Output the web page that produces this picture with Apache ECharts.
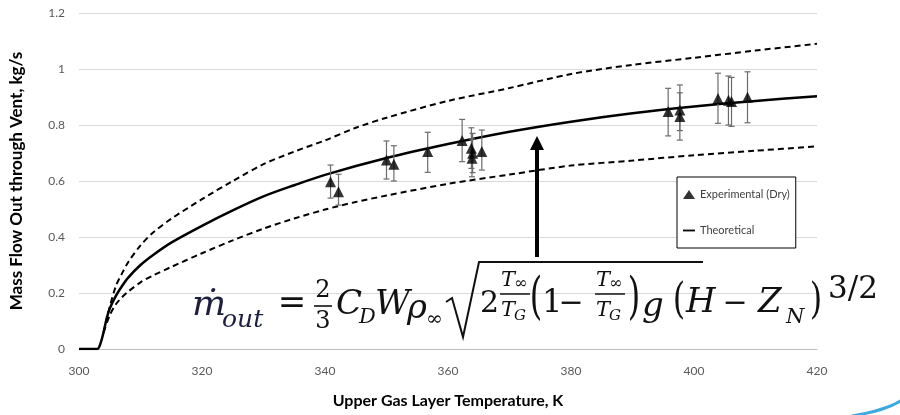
<!DOCTYPE html>
<html>
<head>
<meta charset="utf-8">
<script src="https://cdn.jsdelivr.net/npm/echarts/dist/echarts.min.js"></script>
<style>
html,body{margin:0;padding:0;background:#fff;}
#chart{width:900px;height:415px;}
</style>
</head>
<body>
<div id="chart"></div>
<script>
// ---- data ----
const xTicks = [300, 320, 340, 360, 380, 400, 420];
const yTicks = [0, 0.2, 0.4, 0.6, 0.8, 1, 1.2];

const theoryTemp = [300, 302, 303, 303.5, 304, 304.5, 305, 306, 307, 308, 310, 312, 315, 320, 325, 330, 335, 340, 350, 360, 370, 380, 390, 400, 410, 420];
const theoryFlow = [0, 0, 0, 0.02, 0.06, 0.11, 0.145, 0.19, 0.225, 0.255, 0.30, 0.335, 0.38, 0.44, 0.495, 0.545, 0.585, 0.622, 0.682, 0.732, 0.776, 0.812, 0.842, 0.866, 0.886, 0.903];

const boundTemp = [304, 305, 306, 307, 308, 310, 312, 315, 320, 325, 330, 335, 340, 345, 350, 360, 370, 380, 390, 400, 410, 420];
const upperFlow = [0.06, 0.15, 0.225, 0.27, 0.31, 0.37, 0.415, 0.465, 0.535, 0.60, 0.66, 0.705, 0.745, 0.79, 0.826, 0.886, 0.932, 0.982, 1.015, 1.04, 1.066, 1.09];
const lowerFlow = [0.06, 0.12, 0.16, 0.185, 0.205, 0.238, 0.262, 0.293, 0.342, 0.388, 0.43, 0.466, 0.498, 0.525, 0.548, 0.59, 0.623, 0.655, 0.673, 0.692, 0.708, 0.724];

const expTemp = [340.9, 342.2, 350.0, 351.2, 356.7, 362.3, 363.8, 364.0, 363.9, 365.5, 395.8, 397.7, 397.7, 403.9, 405.6, 406.1, 408.7];
const expFlow = [0.597, 0.562, 0.675, 0.660, 0.705, 0.745, 0.717, 0.699, 0.681, 0.705, 0.848, 0.854, 0.830, 0.895, 0.888, 0.884, 0.899];
const expLow  = [0.539, 0.514, 0.607, 0.600, 0.631, 0.669, 0.645, 0.630, 0.615, 0.639, 0.761, 0.780, 0.746, 0.806, 0.800, 0.795, 0.808];
const expHigh = [0.657, 0.624, 0.743, 0.726, 0.774, 0.820, 0.790, 0.770, 0.750, 0.782, 0.931, 0.943, 0.915, 0.985, 0.975, 0.970, 0.990];

const xTitle = 'Upper Gas Layer Temperature, K';
const yTitle = 'Mass Flow Out through Vent, kg/s';
const expName = 'Experimental (Dry)';
const theoryName = 'Theoretical';

// ---- build ----
const zip = (a, b) => a.map((v, i) => [v, b[i]]);
const errData = expTemp.map((t, i) => [t, expLow[i], expHigh[i]]);

const chart = echarts.init(document.getElementById('chart'), null, {renderer: 'canvas'});

const EQ_FONT = '"DejaVu Serif", "Liberation Serif", serif';
const eqColor = '#111';
function t(text, x, y, size, opts) {
  opts = opts || {};
  return {
    type: 'text', z: 50,
    style: {
      text: text, x: x, y: y,
      font: (opts.italic ? 'italic ' : '') + size + 'px ' + (opts.family || EQ_FONT),
      fill: opts.color || eqColor,
      align: opts.align || 'left',
      verticalAlign: 'middle'
    }
  };
}
function hline(x1, x2, y, w) {
  return {type: 'line', z: 50, shape: {x1: x1, y1: y, x2: x2, y2: y}, style: {stroke: eqColor, lineWidth: w || 1.5}};
}
function paren(ch, x, y, sy) {
  return {type: 'text', z: 50, scaleY: sy, originX: x, originY: y,
    style: {text: ch, x: x, y: y, font: '32px ' + EQ_FONT, fill: eqColor, align: 'center', verticalAlign: 'middle'}};
}

const navy = '#1d1f3d';
const eq = [
  t('\u1E41', 192, 306, 36, {italic: true, color: navy}),
  t('out', 222, 320, 25, {italic: true, color: navy}),
  t('=', 292, 304, 34, {align: 'center'}),
  t('2', 323, 291, 24, {align: 'center'}),
  hline(314, 332, 306, 1.6),
  t('3', 323, 322, 24, {align: 'center'}),
  t('C', 336, 305, 34, {italic: true}),
  t('D', 359, 318, 21, {italic: true}),
  t('W', 375, 305, 34, {italic: true}),
  t('\u03C1', 407, 309, 34, {italic: true}),
  t('\u221E', 426, 320, 20, {}),
  {type: 'polyline', z: 50, shape: {points: [[446, 302], [452, 298], [463, 337], [479, 262], [703, 262]]}, style: {stroke: eqColor, lineWidth: 2, fill: null}},
  t('2', 480, 304, 30),
  t('T', 501, 281, 21, {italic: true}),
  t('\u221E', 514, 284, 16),
  hline(500, 530, 294, 1.5),
  t('T', 501, 311, 21, {italic: true}),
  t('G', 514, 316, 15, {italic: true}),
  paren('(', 536, 300, 1.55),
  t('1', 542, 304, 32),
  t('\u2212', 571, 304, 30, {align: 'center'}),
  t('T', 596, 281, 21, {italic: true}),
  t('\u221E', 609, 284, 16),
  hline(595, 625, 294, 1.5),
  t('T', 596, 311, 21, {italic: true}),
  t('G', 609, 316, 15, {italic: true}),
  paren(')', 634, 300, 1.55),
  t('g', 642, 307, 34, {italic: true}),
  paren('(', 679, 302, 1.35),
  t('H', 686, 303, 34, {italic: true}),
  t('\u2212', 735, 304, 30, {align: 'center'}),
  t('Z', 758, 303, 34, {italic: true}),
  t('N', 786, 318, 21, {italic: true}),
  paren(')', 816, 302, 1.35),
  t('3/2', 828, 290, 31, {})
];

const arrow = [
  {type: 'rect', z: 40, shape: {x: 535, y: 147, width: 4, height: 110}, style: {fill: '#000'}},
  {type: 'polygon', z: 40, shape: {points: [[537, 136], [530, 150], [544, 150]]}, style: {fill: '#000'}}
];

const swoosh = [
  {type: 'bezierCurve', z: 40, shape: {x1: 852, y1: 416, cpx1: 875, cpy1: 412, cpx2: 890, cpy2: 408, x2: 902, y2: 400}, style: {stroke: '#3fa9dd', lineWidth: 3, fill: null}}
];

const option = {
  animation: false,
  backgroundColor: '#fff',
  grid: {left: 71, right: 83, top: 13, bottom: 66, containLabel: false},
  legend: {
    orient: 'vertical', left: 677, top: 177,
    backgroundColor: '#fff', borderColor: '#000', borderWidth: 1,
    padding: [12, 6, 12, 6], itemGap: 25, itemWidth: 12, itemHeight: 9,
    textStyle: {fontFamily: 'Lato, "Open Sans", sans-serif', fontSize: 11, color: '#404040'},
    data: [
      {name: expName, icon: 'triangle'},
      {name: theoryName, icon: 'path://M0,0 L40,0 L40,6 L0,6 Z'}
    ]
  },
  xAxis: {
    type: 'value', min: 300, max: 420, interval: 20,
    name: xTitle, nameLocation: 'middle', nameGap: 44,
    nameTextStyle: {fontFamily: 'Lato, sans-serif', fontWeight: 'bold', fontSize: 16, color: '#000'},
    axisLine: {show: true, lineStyle: {color: '#bfbfbf', width: 1}},
    axisTick: {show: false},
    splitLine: {show: false},
    axisLabel: {color: '#595959', fontFamily: 'Lato, sans-serif', fontSize: 12, margin: 16,
      customValues: xTicks}
  },
  yAxis: {
    type: 'value', min: 0, max: 1.2, interval: 0.2,
    name: yTitle, nameLocation: 'middle', nameGap: 54, nameRotate: 90,
    nameTextStyle: {fontFamily: 'Lato, sans-serif', fontWeight: 'bold', fontSize: 17, color: '#000'},
    axisLine: {show: false}, axisTick: {show: false},
    splitLine: {show: true, lineStyle: {color: '#d9d9d9', width: 1}},
    axisLabel: {color: '#595959', fontFamily: 'Lato, sans-serif', fontSize: 12, margin: 14,
      customValues: yTicks, formatter: v => String(+v.toFixed(1))}
  },
  series: [
    {
      name: 'Upper bound', type: 'line', data: zip(boundTemp, upperFlow),
      showSymbol: false, symbol: 'none', smooth: 0.3,
      lineStyle: {color: '#000', width: 2, type: [6, 4]}, z: 3, silent: true
    },
    {
      name: 'Lower bound', type: 'line', data: zip(boundTemp, lowerFlow),
      showSymbol: false, symbol: 'none', smooth: 0.3,
      lineStyle: {color: '#000', width: 2, type: [6, 4]}, z: 3, silent: true
    },
    {
      name: theoryName, type: 'line', data: zip(theoryTemp, theoryFlow),
      showSymbol: false, symbol: 'none', smooth: 0.3,
      lineStyle: {color: '#000', width: 2.5}, itemStyle: {color: '#000'}, z: 4
    },
    {
      name: 'Error', type: 'custom', z: 5, silent: true,
      data: errData,
      encode: {x: 0, y: [1, 2]},
      renderItem: function (params, api) {
        const x = api.value(0);
        const lo = api.coord([x, api.value(1)]);
        const hi = api.coord([x, api.value(2)]);
        const w = 3;
        const st = {stroke: '#6b6b6b', lineWidth: 1.2};
        return {type: 'group', children: [
          {type: 'line', shape: {x1: lo[0], y1: lo[1], x2: hi[0], y2: hi[1]}, style: st},
          {type: 'line', shape: {x1: lo[0] - w, y1: lo[1], x2: lo[0] + w, y2: lo[1]}, style: st},
          {type: 'line', shape: {x1: hi[0] - w, y1: hi[1], x2: hi[0] + w, y2: hi[1]}, style: st}
        ]};
      }
    },
    {
      name: expName, type: 'scatter', data: zip(expTemp, expFlow),
      symbol: 'triangle', symbolSize: 11, itemStyle: {color: '#000'}, z: 6
    }
  ],
  graphic: eq.concat(arrow, swoosh)
};
chart.setOption(option);
</script>
</body>
</html>
